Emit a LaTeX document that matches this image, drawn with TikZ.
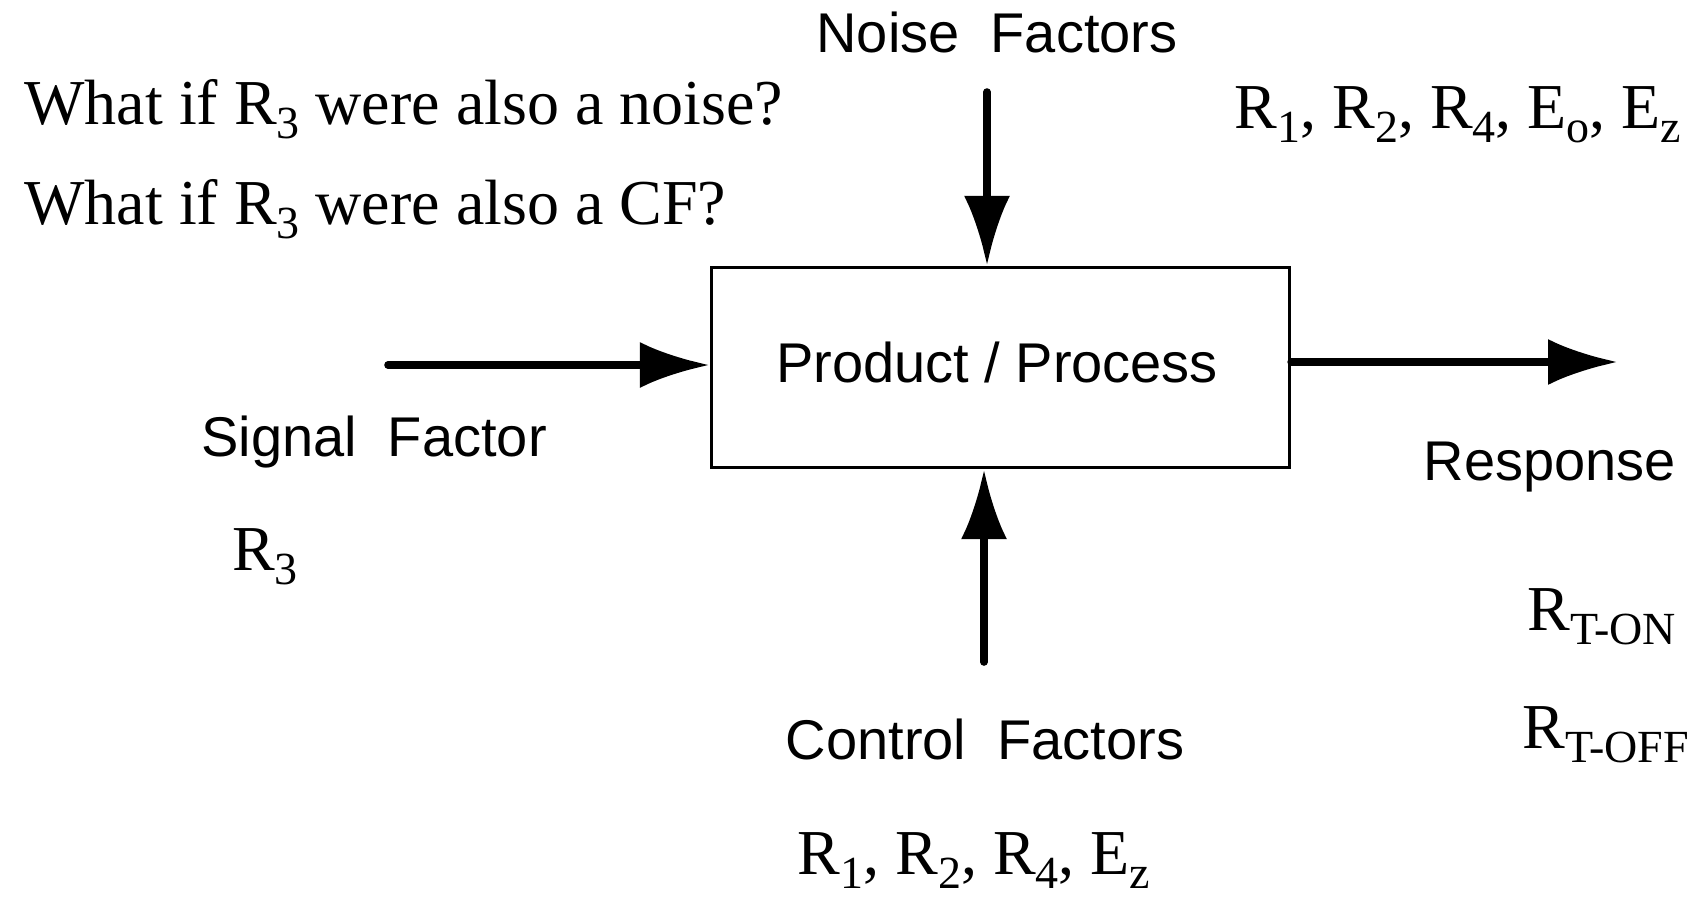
\documentclass[tikz,border=0pt]{standalone}
\usepackage{fontspec}
\setmainfont{Liberation Serif}
\setsansfont{Liberation Sans}
\usepackage{tikz}
\usetikzlibrary{arrows.meta}
\tikzset{
  bigarrow/.style={line width=3.8pt, line cap=round, -{Latex[length=35pt, width=23pt]}},
  sanslabel/.style={inner sep=0pt, anchor=base, font=\sffamily\fontsize{28pt}{34pt}\selectfont},
  seriflabel/.style={inner sep=0pt, anchor=base, font=\rmfamily\fontsize{32pt}{38pt}\selectfont},
}
\newcommand{\lsub}[1]{\raisebox{-0.22em}{\fontsize{23pt}{26pt}\selectfont #1}}
\newcommand{\Rsub}[1]{R\lsub{#1}}

\begin{document}
\begin{tikzpicture}[x=0.5pt, y=-0.5pt]
\useasboundingbox (0,0) rectangle (1695,900);
\node[draw, line width=1.6pt, minimum width=289pt, minimum height=100pt, inner sep=0pt] (pp) at (1000.5,367.5) {};
\node[sanslabel] (pptext) at (997,382) {Product / Process};
\node[sanslabel] (noise) at (997,52) {Noise\ \ Factors};
\node[sanslabel] (signal) at (374,456) {Signal\ \ Factor};
\node[sanslabel] (resp) at (1550,480) {Response};
\node[sanslabel] (control) at (985,759) {Control\ \ Factors};
\node[seriflabel, anchor=base west] (q1) at (24,124) {What if \Rsub{3} were also a noise?};
\node[seriflabel, anchor=base west] (q2) at (24,224) {What if \Rsub{3} were also a CF?};
\node[seriflabel] (nlist) at (1458,128) {\Rsub{1}, \Rsub{2}, \Rsub{4}, E\lsub{o}, E\lsub{z}};
\node[seriflabel] (slist) at (265,570) {\Rsub{3}};
\node[seriflabel, anchor=base west] (ron) at (1527,630) {\Rsub{T-ON}};
\node[seriflabel, anchor=base west] (roff) at (1522,748) {\Rsub{T-OFF}};
\node[seriflabel] (clist) at (974,874) {\Rsub{1}, \Rsub{2}, \Rsub{4}, E\lsub{z}};
\coordinate (ntail) at (987,92);
\coordinate (ctail) at (984,662);
\coordinate (stail) at (388,365);
\coordinate (rhead) at (1618,362);
\draw[bigarrow] (ntail) -- (ntail |- pp.north);
\draw[bigarrow] (ctail) -- (ctail |- pp.south);
\draw[bigarrow] (stail) -- (stail -| pp.west);
\draw[bigarrow] (pp.east |- rhead) -- (rhead);
\end{tikzpicture}
\end{document}
